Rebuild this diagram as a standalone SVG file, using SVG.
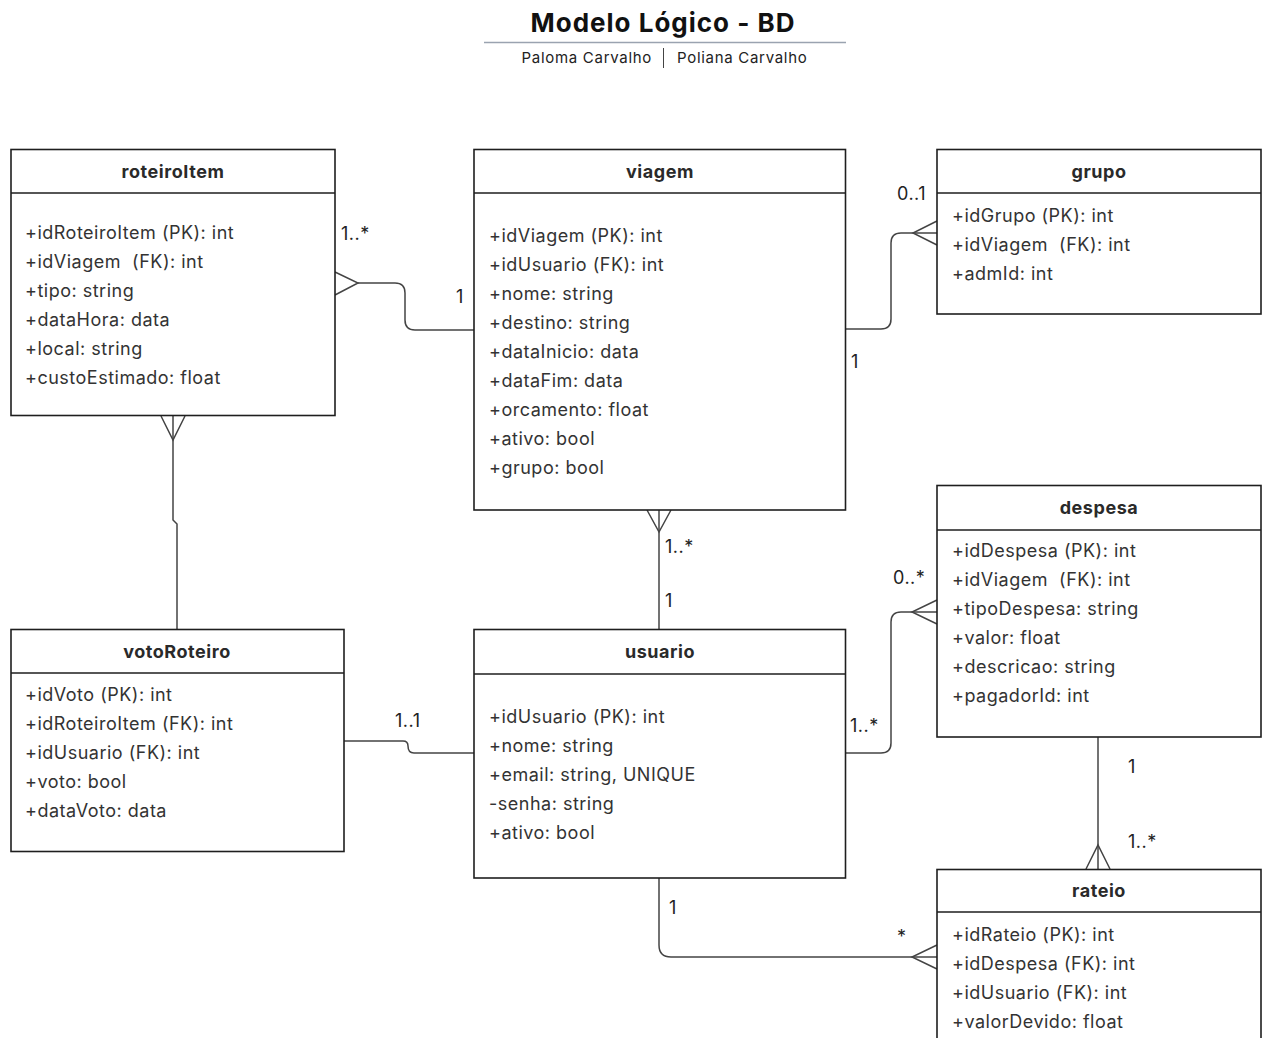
<svg xmlns="http://www.w3.org/2000/svg" width="1264" height="1038" viewBox="0 0 1264 1038">
<style>
.box{fill:#fff;stroke:#1e1e1e;stroke-width:1.6}
.div{stroke:#1e1e1e;stroke-width:1.6}
.ttl{font-family:Inter,"Noto Sans",sans-serif;font-weight:700;font-size:18px;letter-spacing:0.55px;fill:#2a2a2a;text-anchor:middle}
.att{font-family:Inter,"Noto Sans",sans-serif;font-size:18px;letter-spacing:0.5px;fill:#333;white-space:pre}
.lbl{font-family:Inter,"Noto Sans",sans-serif;font-size:18px;letter-spacing:0.5px;fill:#222}
.con{fill:none;stroke:#444;stroke-width:1.5}
</style>
<rect width="1264" height="1038" fill="#fff"/>
<g id="header">
<text x="663" y="32" font-family="Inter,'Noto Sans',sans-serif" font-weight="700" font-size="26" letter-spacing="1" fill="#111" text-anchor="middle">Modelo Lógico - BD</text>
<line x1="484" y1="42.5" x2="846" y2="42.5" stroke="#9aa3b0" stroke-width="1.5"/>
<text x="652" y="63" font-family="Inter,'Noto Sans',sans-serif" font-size="15" letter-spacing="0.7" fill="#222" text-anchor="end">Paloma Carvalho</text>
<line x1="663.5" y1="48" x2="663.5" y2="68" stroke="#444" stroke-width="1"/>
<text x="677" y="63" font-family="Inter,'Noto Sans',sans-serif" font-size="15" letter-spacing="0.7" fill="#222">Poliana Carvalho</text>
</g>
<g id="connectors">
<path class="con" d="M358 283 H395 Q405 283 405 293 V320 Q405 330 415 330 H474"/>
<path class="con" d="M335 272 L358 283 L335 295"/>
<path class="con" d="M845 329 H881 Q891 329 891 319 V243 Q891 233 901 233 H937"/>
<path class="con" d="M937 221 L913 233 L937 245"/>
<path class="con" d="M845 753 H881 Q891 753 891 743 V622 Q891 612 901 612 H937"/>
<path class="con" d="M937 600 L912 612 L937 624"/>
<path class="con" d="M659 510 V629"/>
<path class="con" d="M647 510 L659 532 L671 510"/>
<path class="con" d="M173 416 V520 L177 524 V629"/>
<path class="con" d="M161 416 L173 440 L185 416"/>
<path class="con" d="M344 741 H403 Q408 741 408 746 Q408 753 414 753 H474"/>
<path class="con" d="M659 878 V945 Q659 957 671 957 H937"/>
<path class="con" d="M937 945 L912 957 L937 969"/>
<path class="con" d="M1098 737 V869"/>
<path class="con" d="M1086 869 L1098 845 L1110 869"/>
<text class="lbl" x="341" y="240">1..*</text>
<text class="lbl" x="456" y="303">1</text>
<text class="lbl" x="897" y="200">0..1</text>
<text class="lbl" x="851" y="368">1</text>
<text class="lbl" x="665" y="553">1..*</text>
<text class="lbl" x="665" y="607">1</text>
<text class="lbl" x="893" y="584">0..*</text>
<text class="lbl" x="850" y="732">1..*</text>
<text class="lbl" x="395" y="727">1..1</text>
<text class="lbl" x="669" y="914">1</text>
<text class="lbl" x="897" y="943">*</text>
<text class="lbl" x="1128" y="773">1</text>
<text class="lbl" x="1128" y="848">1..*</text>
</g>
<g id="roteiroItem">
<rect class="box" x="11" y="149.5" width="324" height="266"/>
<line class="div" x1="11" y1="193" x2="335" y2="193"/>
<text class="ttl" x="173" y="178">roteiroItem</text>
<text class="att" x="25" y="239">+idRoteiroItem (PK): int</text>
<text class="att" x="25" y="268">+idViagem  (FK): int</text>
<text class="att" x="25" y="297">+tipo: string</text>
<text class="att" x="25" y="326">+dataHora: data</text>
<text class="att" x="25" y="355">+local: string</text>
<text class="att" x="25" y="384">+custoEstimado: float</text>
</g>
<g id="viagem">
<rect class="box" x="474" y="149.5" width="371.5" height="360.5"/>
<line class="div" x1="474" y1="193" x2="845.5" y2="193"/>
<text class="ttl" x="660" y="178">viagem</text>
<text class="att" x="489" y="242">+idViagem (PK): int</text>
<text class="att" x="489" y="271">+idUsuario (FK): int</text>
<text class="att" x="489" y="300">+nome: string</text>
<text class="att" x="489" y="329">+destino: string</text>
<text class="att" x="489" y="358">+dataInicio: data</text>
<text class="att" x="489" y="387">+dataFim: data</text>
<text class="att" x="489" y="416">+orcamento: float</text>
<text class="att" x="489" y="445">+ativo: bool</text>
<text class="att" x="489" y="474">+grupo: bool</text>
</g>
<g id="grupo">
<rect class="box" x="937" y="149.5" width="324" height="164.5"/>
<line class="div" x1="937" y1="193" x2="1261" y2="193"/>
<text class="ttl" x="1099" y="178">grupo</text>
<text class="att" x="952" y="222">+idGrupo (PK): int</text>
<text class="att" x="952" y="251">+idViagem  (FK): int</text>
<text class="att" x="952" y="280">+admId: int</text>
</g>
<g id="despesa">
<rect class="box" x="937" y="485.5" width="324" height="251.5"/>
<line class="div" x1="937" y1="530" x2="1261" y2="530"/>
<text class="ttl" x="1099" y="514">despesa</text>
<text class="att" x="952" y="557">+idDespesa (PK): int</text>
<text class="att" x="952" y="586">+idViagem  (FK): int</text>
<text class="att" x="952" y="615">+tipoDespesa: string</text>
<text class="att" x="952" y="644">+valor: float</text>
<text class="att" x="952" y="673">+descricao: string</text>
<text class="att" x="952" y="702">+pagadorId: int</text>
</g>
<g id="votoRoteiro">
<rect class="box" x="11" y="629.5" width="333" height="222"/>
<line class="div" x1="11" y1="673" x2="344" y2="673"/>
<text class="ttl" x="177" y="658">votoRoteiro</text>
<text class="att" x="25" y="701">+idVoto (PK): int</text>
<text class="att" x="25" y="730">+idRoteiroItem (FK): int</text>
<text class="att" x="25" y="759">+idUsuario (FK): int</text>
<text class="att" x="25" y="788">+voto: bool</text>
<text class="att" x="25" y="817">+dataVoto: data</text>
</g>
<g id="usuario">
<rect class="box" x="474" y="629.5" width="371.5" height="248.5"/>
<line class="div" x1="474" y1="674" x2="845.5" y2="674"/>
<text class="ttl" x="660" y="658">usuario</text>
<text class="att" x="489" y="723">+idUsuario (PK): int</text>
<text class="att" x="489" y="752">+nome: string</text>
<text class="att" x="489" y="781">+email: string, UNIQUE</text>
<text class="att" x="489" y="810">-senha: string</text>
<text class="att" x="489" y="839">+ativo: bool</text>
</g>
<g id="rateio">
<rect class="box" x="937" y="869.5" width="324" height="200"/>
<line class="div" x1="937" y1="912" x2="1261" y2="912"/>
<text class="ttl" x="1099" y="897">rateio</text>
<text class="att" x="952" y="941">+idRateio (PK): int</text>
<text class="att" x="952" y="970">+idDespesa (FK): int</text>
<text class="att" x="952" y="999">+idUsuario (FK): int</text>
<text class="att" x="952" y="1028">+valorDevido: float</text>
</g>
</svg>
